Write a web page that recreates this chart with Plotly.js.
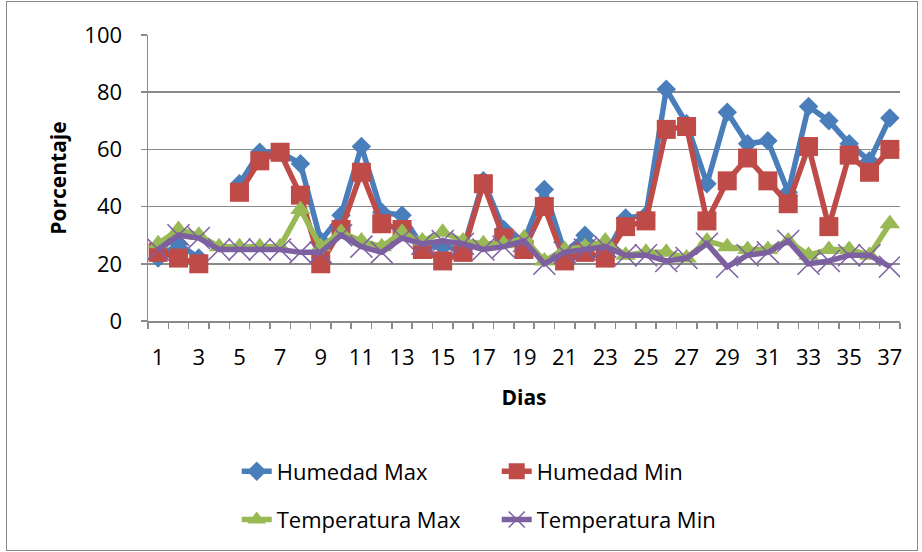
<!DOCTYPE html>
<html>
<head>
<meta charset="utf-8">
<script src="https://cdn.plot.ly/plotly-3.0.1.min.js"></script>
<style>
  html, body { margin: 0; padding: 0; background: #ffffff; }
  #wrap { position: relative; width: 922px; height: 552px; }
  #chart { position: absolute; left: 0; top: 0; width: 922px; height: 552px; }
  #frame { position: absolute; left: 6px; top: 1px; width: 910px; height: 548px;
           border: 1px solid #8a8a8a; pointer-events: none; }
</style>
</head>
<body>
<div id="wrap">
  <div id="chart"></div>
  <div id="frame"></div>
</div>
<script>
// Días de medición
const dias = [1, 2, 3, 4, 5, 6, 7, 8, 9, 10, 11, 12, 13, 14, 15, 16, 17, 18, 19,
              20, 21, 22, 23, 24, 25, 26, 27, 28, 29, 30, 31, 32, 33, 34, 35, 36, 37];

// Etiquetas del eje X (solo días impares)
const etiquetasX = [1, 3, 5, 7, 9, 11, 13, 15, 17, 19, 21, 23, 25, 27, 29, 31, 33, 35, 37];

// Etiquetas del eje Y
const etiquetasY = [0, 20, 40, 60, 80, 100];

// Series (el día 4 no tiene registro de humedad)
const humedadMax = [22, 27, 22, null, 48, 59, 59, 55, 28, 37, 61, 38, 37, 26, 26, 25, 49, 32, 28,
                    46, 24, 30, 23, 36, 37, 81, 69, 48, 73, 62, 63, 45, 75, 70, 62, 56, 71];
const humedadMin = [24, 22, 20, null, 45, 56, 59, 44, 20, 32, 52, 34, 32, 25, 21, 24, 48, 29, 25,
                    40, 21, 24, 22, 33, 35, 67, 68, 35, 49, 57, 49, 41, 61, 33, 58, 52, 60];
const temperaturaMax = [27, 32, 30, 26, 26, 26, 26, 39, 26, 31, 28, 26, 31, 28, 31, 28, 27, 27, 29,
                        21, 25, 26, 28, 23, 24, 24, 22, 28, 26, 25, 25, 28, 23, 25, 25, 23, 34];
const temperaturaMin = [25, 30, 29, 25, 25, 25, 25, 24, 24, 30, 26, 24, 29, 27, 28, 27, 25, 26, 28,
                        20, 24, 25, 26, 23, 23, 21, 22, 27, 19, 23, 24, 28, 20, 21, 23, 23, 19];

const nombres = ['Humedad Max', 'Humedad Min', 'Temperatura Max', 'Temperatura Min'];

const FONT = '"Open Sans", "Liberation Sans", sans-serif';
const GRIS = '#8a8a8a';
const ANCHO_LINEA = 5.5;

const traces = [
  {
    x: dias, y: humedadMax, name: nombres[0], type: 'scatter', mode: 'lines+markers',
    line: { color: '#4A7EBB', width: ANCHO_LINEA },
    marker: { symbol: 'diamond', size: 15, color: '#4A7EBB' },
    connectgaps: false, legend: 'legend'
  },
  {
    x: dias, y: humedadMin, name: nombres[1], type: 'scatter', mode: 'lines+markers',
    line: { color: '#BE4B48', width: ANCHO_LINEA },
    marker: { symbol: 'square', size: 19, color: '#BE4B48' },
    connectgaps: false, legend: 'legend'
  },
  {
    x: dias, y: temperaturaMax, name: nombres[2], type: 'scatter', mode: 'lines+markers',
    line: { color: '#98B954', width: ANCHO_LINEA },
    marker: { symbol: 'triangle-up', size: 18, color: '#98B954' },
    legend: 'legend2'
  },
  {
    x: dias, y: temperaturaMin, name: nombres[3], type: 'scatter', mode: 'lines+markers',
    line: { color: '#7D60A0', width: ANCHO_LINEA },
    marker: { symbol: 'x-thin', size: 22, color: '#7D60A0', line: { color: '#7D60A0', width: 1.5 } },
    legend: 'legend2'
  }
];

const legendaBase = {
  orientation: 'h',
  xanchor: 'left',
  yanchor: 'middle',
  x: 0.118,
  entrywidth: 215,
  entrywidthmode: 'pixels',
  font: { family: FONT, size: 22, color: '#000000' },
  bgcolor: 'rgba(0,0,0,0)',
  borderwidth: 0,
  traceorder: 'normal'
};

const layout = {
  width: 922,
  height: 552,
  margin: { l: 148, r: 22, t: 35, b: 228 },
  paper_bgcolor: '#ffffff',
  plot_bgcolor: '#ffffff',
  font: { family: FONT, size: 22, color: '#000000' },
  showlegend: true,
  xaxis: {
    range: [0.5, 37.5],
    tickmode: 'array',
    tickvals: etiquetasX,
    ticktext: etiquetasX.map(String),
    ticks: '',
    ticklabelstandoff: 16,
    tickfont: { family: FONT, size: 22, color: '#000000' },
    showgrid: false,
    zeroline: false,
    showline: true,
    linecolor: GRIS,
    linewidth: 1.5,
    minor: { tick0: 0.5, dtick: 1, ticks: 'outside', ticklen: 6, tickwidth: 1.5, tickcolor: GRIS, showgrid: false },
    title: { text: 'Dias', font: { family: FONT, size: 21, weight: 'bold', color: '#000000' }, standoff: 20 },
    automargin: false,
    fixedrange: true
  },
  yaxis: {
    range: [0, 100],
    tickmode: 'array',
    tickvals: etiquetasY,
    ticktext: etiquetasY.map(String),
    ticks: 'outside',
    ticklen: 6,
    tickwidth: 1.5,
    tickcolor: GRIS,
    ticklabelstandoff: 14,
    tickfont: { family: FONT, size: 22, color: '#000000' },
    showgrid: true,
    gridcolor: GRIS,
    gridwidth: 1.5,
    zeroline: false,
    showline: true,
    linecolor: GRIS,
    linewidth: 1.5,
    title: { text: 'Porcentaje', font: { family: FONT, size: 21, weight: 'bold', color: '#000000' }, standoff: 12 },
    automargin: false,
    fixedrange: true
  },
  legend: Object.assign({}, legendaBase, { y: -0.526 }),
  legend2: Object.assign({}, legendaBase, { y: -0.695 })
};

Plotly.newPlot('chart', traces, layout, { staticPlot: true, displayModeBar: false });
</script>
</body>
</html>
